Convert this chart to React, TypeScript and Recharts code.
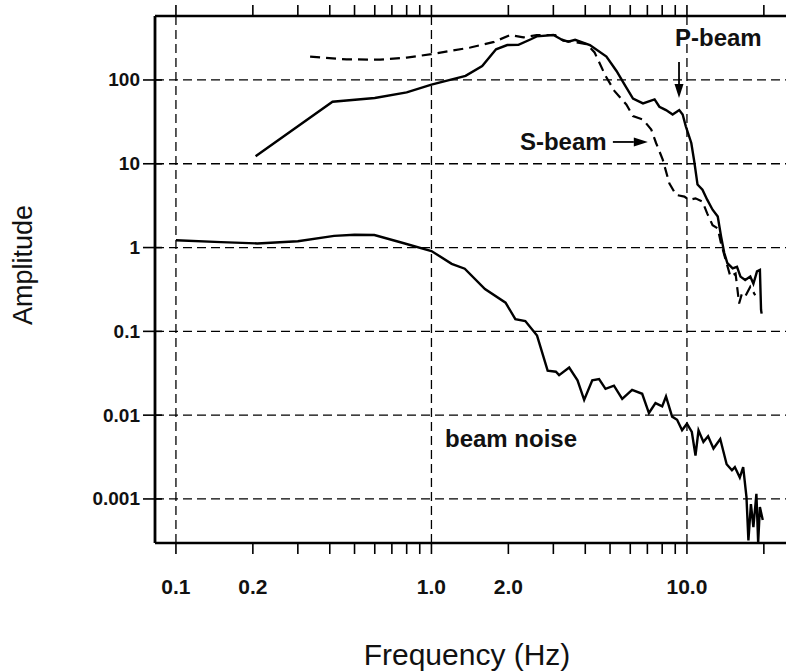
import { LineChart, Line, XAxis, YAxis, ReferenceLine, ReferenceDot, Label } from 'recharts'

const FONT = '"Liberation Sans", Arial, Helvetica, sans-serif'

// P-beam spectrum (solid)
const pBeamFreq = [0.205, 0.41, 0.6, 0.8, 1.0, 1.36, 1.58, 1.79, 1.98, 2.19, 2.45, 2.58, 3.0, 3.24, 3.43, 3.65, 4.17, 4.84, 5.3, 5.7, 6.15, 6.73, 7.47, 7.8, 8.28, 8.79, 9.33, 9.62, 9.9, 10.4, 10.7, 11.0, 11.5, 12.0, 12.6, 13.2, 13.6, 14.0, 14.4, 15.1, 15.7, 16.2, 16.9, 17.7, 18.2, 18.8, 19.3, 19.5, 19.6]
const pBeamAmp = [12.3, 55, 61, 71, 88, 112, 147, 232, 261, 262, 306, 331, 344, 302, 286, 302, 261, 190, 128, 88, 60, 52.5, 58.6, 47.9, 43.7, 38.7, 43.7, 38.7, 28, 17.7, 10.3, 5.65, 4.9, 3.73, 2.83, 2.35, 1.36, 0.86, 0.65, 0.565, 0.59, 0.45, 0.41, 0.45, 0.37, 0.52, 0.54, 0.18, 0.163]

// S-beam spectrum (dashed)
const sBeamFreq = [0.335, 0.465, 0.63, 0.8, 1.0, 1.42, 1.76, 2.03, 2.29, 2.58, 3.05, 3.28, 3.59, 4.05, 4.35, 4.8, 5.2, 5.79, 6.15, 6.73, 7.25, 7.57, 8.04, 8.53, 9.06, 9.77, 10.2, 10.8, 11.5, 12.0, 12.6, 13.2, 13.6, 14.2, 14.8, 15.5, 16.0, 16.4, 16.9, 17.7, 18.5]
const sBeamAmp = [190, 176, 175, 185, 203, 244, 285, 344, 322, 344, 344, 294, 286, 268, 213, 112, 74, 51, 37, 33.7, 25.6, 17.7, 11.2, 5.86, 4.25, 4.06, 3.7, 3.87, 3.53, 2.56, 1.85, 1.69, 1.12, 0.7, 0.45, 0.49, 0.215, 0.28, 0.26, 0.34, 0.27]

// beam noise (solid)
const noiseFreq = [0.1, 0.15, 0.208, 0.3, 0.416, 0.5, 0.598, 0.762, 1.0, 1.2, 1.35, 1.62, 1.95, 2.13, 2.33, 2.59, 2.85, 3.07, 3.16, 3.46, 3.73, 3.96, 4.26, 4.53, 4.8, 5.18, 5.58, 6.1, 6.68, 7.1, 7.53, 8.0, 8.28, 8.75, 9.15, 9.57, 10.0, 10.45, 10.8, 11.1, 11.6, 12.1, 12.7, 13.5, 14.3, 15.0, 15.4, 16.1, 16.6, 17.1, 17.4, 17.8, 18.2, 18.7, 19.0, 19.3, 19.8]
const noiseAmp = [1.22, 1.16, 1.12, 1.19, 1.38, 1.42, 1.41, 1.15, 0.91, 0.64, 0.56, 0.32, 0.22, 0.14, 0.133, 0.089, 0.034, 0.033, 0.03, 0.037, 0.026, 0.0152, 0.026, 0.027, 0.0206, 0.0225, 0.0156, 0.02, 0.018, 0.0106, 0.0139, 0.0127, 0.0167, 0.0096, 0.0088, 0.0066, 0.0079, 0.0063, 0.0033, 0.0066, 0.0048, 0.0056, 0.004, 0.0052, 0.0026, 0.0022, 0.0024, 0.0018, 0.0024, 0.00105, 0.00032, 0.00087, 0.00046, 0.00115, 0.0003, 0.0008, 0.00056]

// axes
const xLabelTicks = [0.1, 0.2, 1, 2, 10]
const xLabelText = ['0.1', '0.2', '1.0', '2.0', '10.0']
const xTicks = [0.1, 0.2, 0.3, 0.4, 0.5, 0.6, 0.7, 0.8, 0.9, 1, 2, 3, 4, 5, 6, 7, 8, 9, 10, 20]
const xGrid = [0.1, 1, 10]
const yTicks = [0.001, 0.01, 0.1, 1, 10, 100]
const yLabelText = ['0.001', '0.01', '0.1', '1', '10', '100']

const toPoints = (f: number[], a: number[]) => f.map((v, i) => ({ f: v, a: a[i] }))

const BottomTick = (props: any) => {
    const { x, y, payload } = props
    const i = xLabelTicks.indexOf(payload.value)
    return (
        <g>
            <line x1={x} x2={x} y1={y} y2={y + 11} stroke="#000" strokeWidth={1.6} />
            {i >= 0 && (
                <text x={x} y={y + 43} textAnchor="middle" dominantBaseline="central"
                    fontFamily={FONT} fontWeight="bold" fontSize={21} fill="#111">
                    {xLabelText[i]}
                </text>
            )}
        </g>
    )
}

const TopTick = (props: any) => {
    const { x, y } = props
    return <line x1={x} x2={x} y1={y} y2={y - 11} stroke="#000" strokeWidth={1.6} />
}

const LeftTick = (props: any) => {
    const { x, y, payload } = props
    const i = yTicks.indexOf(payload.value)
    return (
        <g>
            <line x1={x - 12} x2={x + 7} y1={y} y2={y} stroke="#000" strokeWidth={1.6} />
            <text x={x - 15} y={y} textAnchor="end" dominantBaseline="central"
                fontFamily={FONT} fontWeight="bold" fontSize={19} fill="#111">
                {yLabelText[i]}
            </text>
        </g>
    )
}

const Arrow = (props: any) => {
    const { x1, y1, x2, y2 } = props
    const ang = Math.atan2(y2 - y1, x2 - x1)
    const len = 14
    const hw = 4.5
    const bx = x2 - len * Math.cos(ang)
    const by = y2 - len * Math.sin(ang)
    const px = -Math.sin(ang) * hw
    const py = Math.cos(ang) * hw
    return (
        <g>
            <line x1={x1} y1={y1} x2={bx} y2={by} stroke="#000" strokeWidth={1.8} />
            <polygon points={`${x2},${y2} ${bx + px},${by + py} ${bx - px},${by - py}`} fill="#000" />
        </g>
    )
}

const annotText = (label: string) => (p: any) => (
    <text x={p.cx} y={p.cy} dominantBaseline="central" fontFamily={FONT}
        fontWeight="bold" fontSize={24} fill="#111">
        {label}
    </text>
)

export default function App() {
    return (
        <div style={{ position: 'absolute', left: 0, top: 0, width: 786, height: 672, overflow: 'hidden', background: '#fff' }}>
            <LineChart width={800} height={672} margin={{ top: 0, right: 0, bottom: 0, left: 0 }}>
                <XAxis xAxisId="bottom" type="number" dataKey="f" scale="log" domain={[0.0828, 27.7]}
                    allowDataOverflow ticks={xTicks} interval={0} tickSize={0} tickMargin={0}
                    height={129} tickLine={false} axisLine={{ stroke: '#000', strokeWidth: 2.5 }}
                    tick={<BottomTick />}>
                    <Label content={() => (
                        <text x={467} y={654} textAnchor="middle" dominantBaseline="central"
                            fontFamily={FONT} fontSize={30} fill="#111">Frequency (Hz)</text>
                    )} />
                </XAxis>
                <XAxis xAxisId="top" orientation="top" type="number" dataKey="f" scale="log"
                    domain={[0.0828, 27.7]} allowDataOverflow ticks={xTicks} interval={0}
                    tickSize={0} tickMargin={0} height={16} tickLine={false}
                    axisLine={{ stroke: '#000', strokeWidth: 2.5 }} tick={<TopTick />} />
                <YAxis type="number" dataKey="a" scale="log" domain={[0.000298, 580]} allowDataOverflow
                    ticks={yTicks} interval={0} width={155} tickSize={0} tickMargin={0} tickLine={false}
                    axisLine={{ stroke: '#000', strokeWidth: 2.8 }} tick={<LeftTick />}>
                    <Label content={() => (
                        <text transform="translate(23,265) rotate(-90)" textAnchor="middle"
                            dominantBaseline="central" fontFamily={FONT} fontSize={27} fill="#111">Amplitude</text>
                    )} />
                </YAxis>

                {yTicks.map((v) => (
                    <ReferenceLine key={'h' + v} xAxisId="bottom" y={v} stroke="#000"
                        strokeWidth={1.3} strokeDasharray="9 5" />
                ))}
                {xGrid.map((v) => (
                    <ReferenceLine key={'v' + v} xAxisId="bottom" x={v} stroke="#000"
                        strokeWidth={1.3} strokeDasharray="9 5" />
                ))}

                <Line xAxisId="bottom" data={toPoints(sBeamFreq, sBeamAmp)} dataKey="a" type="linear"
                    stroke="#000" strokeWidth={2.2} strokeDasharray="10 6" dot={false} isAnimationActive={false} />
                <Line xAxisId="bottom" data={toPoints(pBeamFreq, pBeamAmp)} dataKey="a" type="linear"
                    stroke="#000" strokeWidth={2.4} dot={false} isAnimationActive={false} />
                <Line xAxisId="bottom" data={toPoints(noiseFreq, noiseAmp)} dataKey="a" type="linear"
                    stroke="#000" strokeWidth={2.4} dot={false} isAnimationActive={false} />

                <ReferenceDot xAxisId="bottom" x={8.98} y={317} r={0} shape={annotText('P-beam')} />
                <ReferenceDot xAxisId="bottom" x={2.22} y={18.2} r={0} shape={annotText('S-beam')} />
                <ReferenceDot xAxisId="bottom" x={1.13} y={0.0052} r={0} shape={annotText('beam noise')} />
                <ReferenceLine xAxisId="bottom" segment={[{ x: 9.31, y: 164 }, { x: 9.31, y: 61 }]} shape={<Arrow />} />
                <ReferenceLine xAxisId="bottom" segment={[{ x: 5.13, y: 18.2 }, { x: 7.03, y: 18.2 }]} shape={<Arrow />} />
            </LineChart>
        </div>
    )
}
